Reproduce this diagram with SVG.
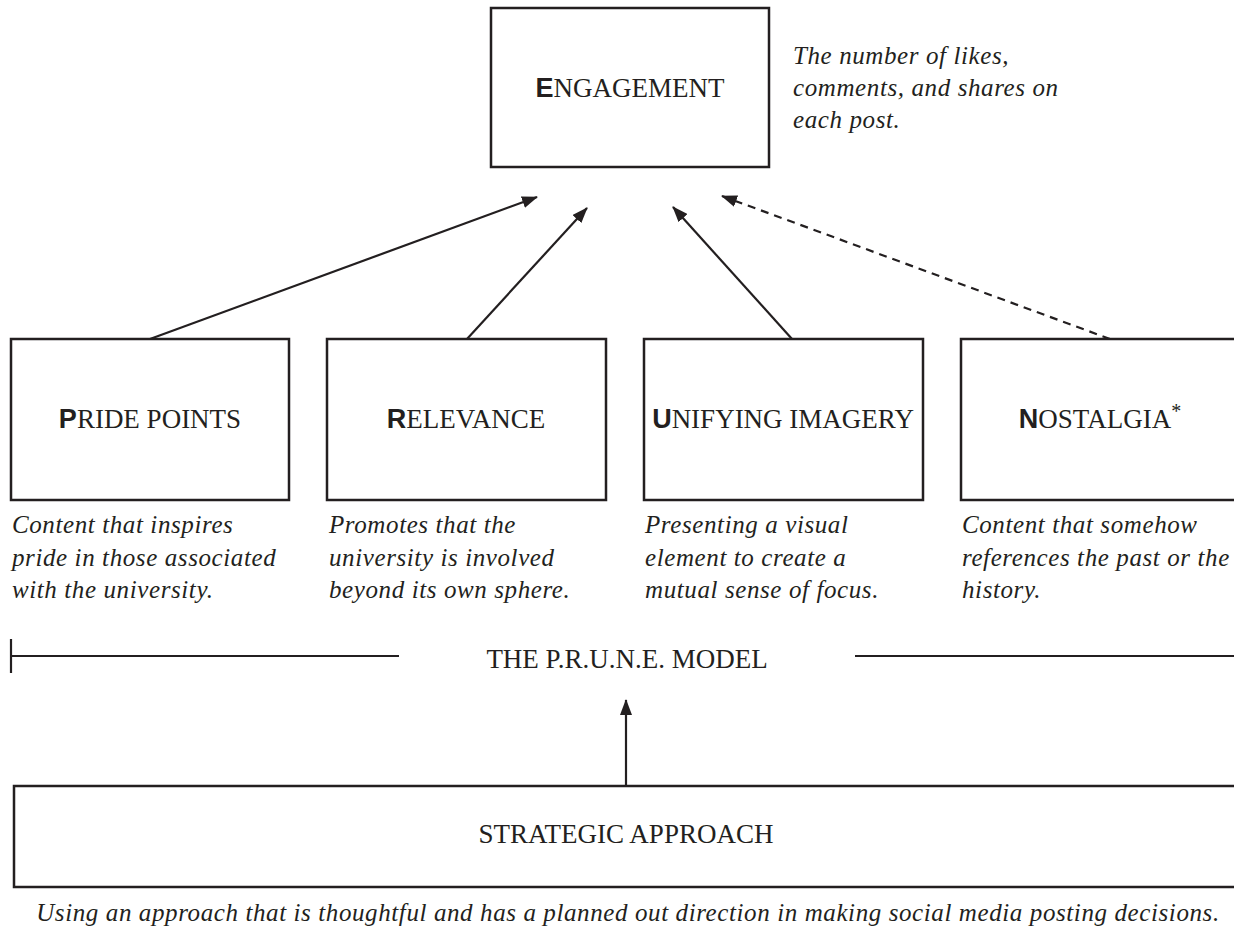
<svg xmlns="http://www.w3.org/2000/svg" width="1234" height="943" viewBox="0 0 1234 943">
<style>
.box{fill:#fff;stroke:#231f20;stroke-width:2.5}
.h{font-family:"Liberation Serif",serif;font-size:27px;fill:#231f20;text-anchor:middle}
.b{font-family:"Liberation Sans",sans-serif;font-weight:bold}
.d{font-family:"Liberation Serif",serif;font-style:italic;font-size:25px;letter-spacing:0.6px;fill:#231f20}
.c{stroke:#231f20;stroke-width:2.2;fill:none}
</style>
<defs>
<marker id="ah" viewBox="0 0 16 12" refX="15" refY="6" markerWidth="16" markerHeight="12" markerUnits="userSpaceOnUse" orient="auto">
<path d="M0,0 L16,6 L0,12 Z" fill="#231f20"/>
</marker>
</defs>
<g id="engagement">
<rect class="box" x="491" y="8" width="278" height="159"/>
<text class="h" x="630" y="97"><tspan class="b">E</tspan>NGAGEMENT</text>
<text class="d" x="793" y="64">The number of likes,</text>
<text class="d" x="793" y="96">comments, and shares on</text>
<text class="d" x="793" y="128">each post.</text>
</g>
<g id="pride">
<rect class="box" x="11" y="339" width="278" height="161"/>
<text class="h" x="150" y="428"><tspan class="b">P</tspan>RIDE POINTS</text>
<text class="d" x="12" y="533">Content that inspires</text>
<text class="d" x="12" y="566">pride in those associated</text>
<text class="d" x="12" y="598">with the university.</text>
</g>
<g id="relevance">
<rect class="box" x="327" y="339" width="279" height="161"/>
<text class="h" x="466" y="428"><tspan class="b">R</tspan>ELEVANCE</text>
<text class="d" x="329" y="533">Promotes that the</text>
<text class="d" x="329" y="566">university is involved</text>
<text class="d" x="329" y="598">beyond its own sphere.</text>
</g>
<g id="unifying">
<rect class="box" x="644" y="339" width="279" height="161"/>
<text class="h" x="783" y="428"><tspan class="b">U</tspan>NIFYING IMAGERY</text>
<text class="d" x="645" y="533">Presenting a visual</text>
<text class="d" x="645" y="566">element to create a</text>
<text class="d" x="645" y="598">mutual sense of focus.</text>
</g>
<g id="nostalgia">
<rect class="box" x="961" y="339" width="290" height="161"/>
<text class="h" x="1100" y="428"><tspan class="b">N</tspan>OSTALGIA<tspan font-size="20" dy="-10">*</tspan></text>
<text class="d" x="962" y="533">Content that somehow</text>
<text class="d" x="962" y="566">references the past or the</text>
<text class="d" x="962" y="598">history.</text>
</g>
<g id="model">
<line class="c" x1="11" y1="639" x2="11" y2="673"/>
<line class="c" x1="11" y1="656" x2="399" y2="656"/>
<line class="c" x1="855" y1="656" x2="1234" y2="656"/>
<text class="h" x="627" y="668" font-size="24">THE P.R.U.N.E. MODEL</text>
</g>
<g id="strategic">
<rect class="box" x="14" y="786" width="1240" height="101"/>
<text class="h" x="626" y="843" font-size="25">STRATEGIC APPROACH</text>
<text class="d" x="628" y="921" text-anchor="middle" letter-spacing="0.52">Using an approach that is thoughtful and has a planned out direction in making social media posting decisions.</text>
</g>
<g id="connectors">
<line class="c" x1="150" y1="339" x2="537" y2="197" marker-end="url(#ah)"/>
<line class="c" x1="467" y1="339" x2="587" y2="208" marker-end="url(#ah)"/>
<line class="c" x1="792" y1="339" x2="673" y2="207" marker-end="url(#ah)"/>
<line class="c" x1="1110" y1="339" x2="722" y2="196" stroke-dasharray="8,6" marker-end="url(#ah)"/>
<line class="c" x1="626" y1="786" x2="626" y2="700" marker-end="url(#ah)"/>
</g>
</svg>
